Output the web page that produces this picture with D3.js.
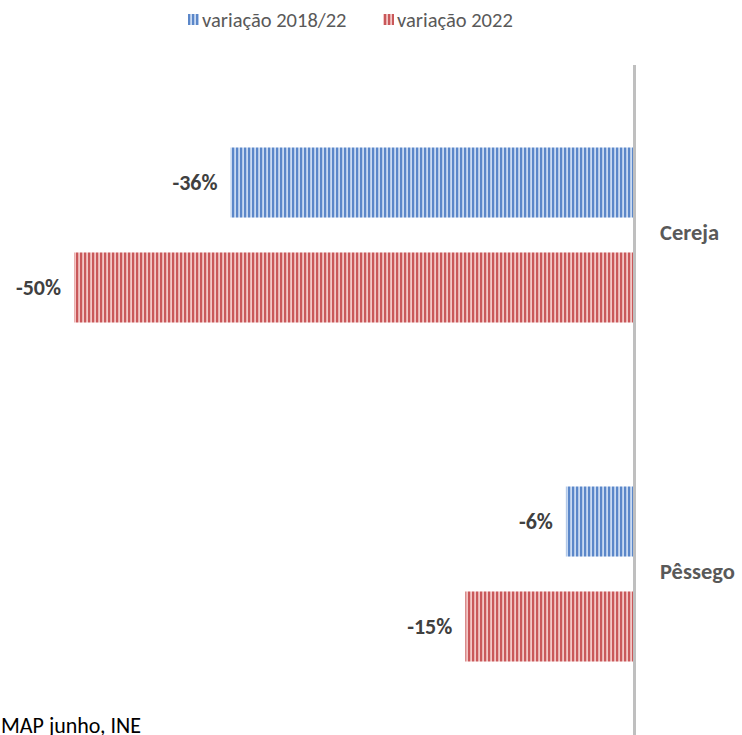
<!DOCTYPE html>
<html><head><meta charset="utf-8">
<script src="https://cdn.jsdelivr.net/npm/d3@7"></script>
<style>body{margin:0;background:#fff;}svg{display:block;}</style>
</head><body>
<script>
const categories = ["Cereja", "Pêssego"];
const seriesNames = ["variação 2018/22", "variação 2022"];
const values2018_22 = [-36, -6];
const values2022 = [-50, -15];
const footnote = "MAP junho, INE";

const W = 742, H = 735;
const font = "Carlito, Lato, 'Liberation Sans', sans-serif";
const svg = d3.select("body").append("svg").attr("width", W).attr("height", H);

const defs = svg.append("defs");
const pats = [
  {id: "pBlue", light: "#c9daf2", dark: "#5b87c9"},
  {id: "pRed", light: "#f3c7c6", dark: "#c9585a"}
];
pats.forEach(p => {
  const pt = defs.append("pattern").attr("id", p.id).attr("patternUnits", "userSpaceOnUse")
    .attr("width", 4).attr("height", 10);
  pt.append("rect").attr("width", 4).attr("height", 10).attr("fill", p.light);
  pt.append("rect").attr("x", 0).attr("width", 2.2).attr("height", 10).attr("fill", p.dark);
});

const x = d3.scaleLinear().domain([-50, 0]).range([74, 633]);
const y = d3.scaleBand().domain(categories).range([65.5, 743.5]).paddingInner(0).paddingOuter(0);
const ySub = d3.scaleBand().domain(seriesNames).range([-87.5, 87.5]).paddingInner(0.333).paddingOuter(0);

const series = [
  {name: seriesNames[0], values: values2018_22, fill: "url(#pBlue)"},
  {name: seriesNames[1], values: values2022, fill: "url(#pRed)"}
];

series.forEach(s => {
  const g = svg.append("g");
  categories.forEach((c, i) => {
    const v = s.values[i];
    const yc = y(c) + y.bandwidth() / 2 + ySub(s.name);
    g.append("rect").attr("x", x(v)).attr("y", yc).attr("width", x(0) - x(v))
      .attr("height", ySub.bandwidth()).attr("fill", s.fill);
    g.append("text").attr("x", x(v) - 13).attr("y", yc + ySub.bandwidth() / 2)
      .attr("dy", "0.35em").attr("text-anchor", "end")
      .attr("font-family", font).attr("font-weight", "bold").attr("font-size", 22)
      .attr("fill", "#404040").text(v + "%");
  });
});

// axis line
svg.append("line").attr("x1", x(0) + 1.5).attr("x2", x(0) + 1.5).attr("y1", 65).attr("y2", H)
  .attr("stroke", "#bfbfbf").attr("stroke-width", 3);

// category labels
categories.forEach(c => {
  svg.append("text").attr("x", 660).attr("y", y(c) + y.bandwidth() / 2 - 3).attr("dy", "0.35em")
    .attr("font-family", font).attr("font-weight", "bold").attr("font-size", 22.5)
    .attr("fill", "#595959").text(c);
});

// legend
const legend = [
  {name: seriesNames[0], fill: "url(#pBlue)", x: 188},
  {name: seriesNames[1], fill: "url(#pRed)", x: 383}
];
legend.forEach(l => {
  svg.append("rect").attr("x", l.x).attr("y", 14).attr("width", 11).attr("height", 11).attr("fill", l.fill);
  svg.append("text").attr("x", l.x + 14).attr("y", 20).attr("dy", "0.35em")
    .attr("font-family", font).attr("font-size", 20.5).attr("fill", "#595959").text(l.name);
});

// footnote
svg.append("text").attr("x", 1).attr("y", 733).attr("font-family", font).attr("font-size", 22)
  .attr("fill", "#000").text(footnote);
</script>
</body></html>
